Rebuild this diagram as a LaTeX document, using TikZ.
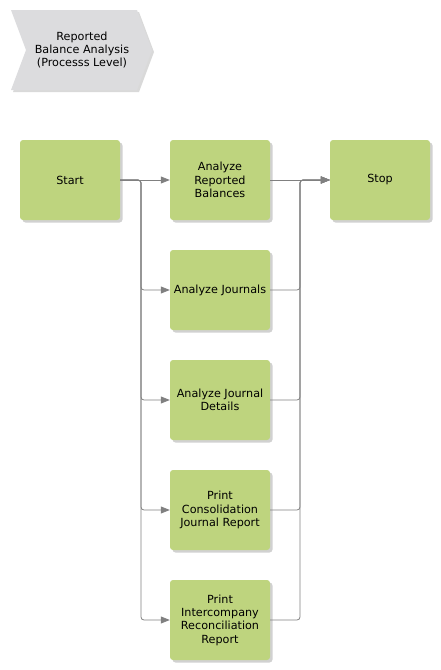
\documentclass[tikz,border=0pt]{standalone}
\usepackage{fontspec}
\setmainfont{DejaVu Sans}
\usetikzlibrary{arrows.meta,shadows}

\definecolor{boxgreen}{RGB}{190,212,126}
\definecolor{chevgray}{RGB}{220,220,222}
\definecolor{linegray}{RGB}{128,128,128}

\tikzset{
  task/.style={draw=none,fill=boxgreen,rounded corners=3pt,minimum width=100pt,minimum height=80pt,
    align=center,inner sep=1pt,font=\fontsize{11.2}{13.3}\selectfont,
    drop shadow={shadow xshift=2.5pt,shadow yshift=-2.5pt,fill=black,opacity=0.18}},
  conn/.style={draw=linegray,line width=0.8pt,rounded corners=3pt,-{Triangle[length=9pt,width=7pt]}}
}

\begin{document}
\begin{tikzpicture}[x=1pt,y=-1pt]
\useasboundingbox (0,0) rectangle (440,670);

% process level chevron
\fill[black,opacity=0.15] (13,12) -- (139,12) -- (154,52) -- (139,92) -- (13,92) -- (28,52) -- cycle;
\fill[chevgray] (11,10) -- (137,10) -- (152,50) -- (137,90) -- (11,90) -- (26,50) -- cycle;
\node[align=center,font=\fontsize{11.2}{13.3}\selectfont] (title) at (82,50) {Reported\\Balance Analysis\\(Processs Level)};

% tasks
\node[task] (start) at (70,180) {Start};
\node[task] (arep) at (220,180) {Analyze\\Reported\\Balances};
\node[task] (stop) at (380,180) {Stop};
\node[task] (ajour) at (220,290) {Analyze Journals};
\node[task] (ajdet) at (220,400) {Analyze Journal\\Details};
\node[task] (pcons) at (220,510) {Print\\Consolidation\\Journal Report};
\node[task] (pinter) at (220,620) {Print\\Intercompany\\Reconciliation\\Report};

\coordinate (split) at (141,180);
\coordinate (merge) at (300,180);

% split
\draw[conn] (start.east) -- (arep.west);
\draw[conn] (start.east) -- (split) |- (ajour.west);
\draw[conn] (start.east) -- (split) |- (ajdet.west);
\draw[conn] (start.east) -- (split) |- (pcons.west);
\draw[conn] (start.east) -- (split) |- (pinter.west);

% merge
\draw[conn] (arep.east) -- (stop.west);
\draw[conn] (ajour.east) -| (merge) -- (stop.west);
\draw[conn] (ajdet.east) -| (merge) -- (stop.west);
\draw[conn] (pcons.east) -| (merge) -- (stop.west);
\draw[conn] (pinter.east) -| (merge) -- (stop.west);
\end{tikzpicture}
\end{document}
